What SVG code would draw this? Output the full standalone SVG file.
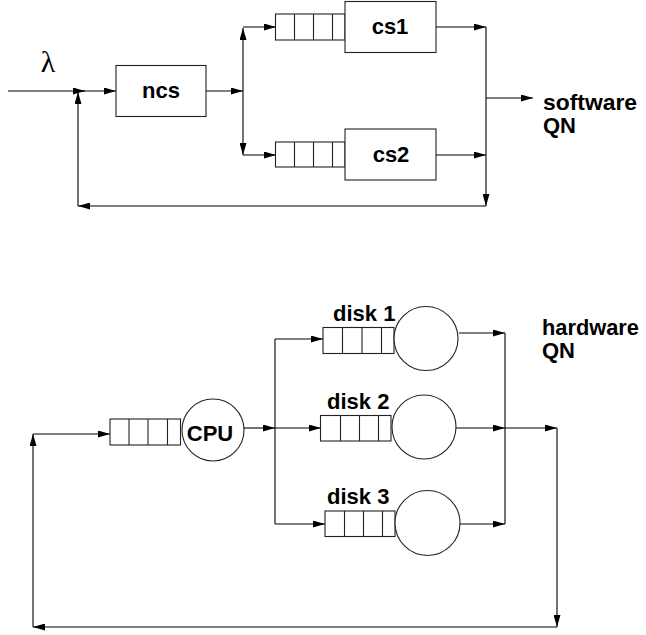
<svg xmlns="http://www.w3.org/2000/svg" width="646" height="635" viewBox="0 0 646 635">
<defs>
<marker id="ah" markerUnits="userSpaceOnUse" markerWidth="12" markerHeight="7" refX="12" refY="3.5" orient="auto">
<path d="M0,0 L12,3.5 L0,7 z" fill="#000"/>
</marker>
</defs>
<style>
.ln{fill:none;stroke:#000;stroke-width:1.1;marker-end:url(#ah)}
.pl{fill:none;stroke:#000;stroke-width:1.1}
.bx{fill:#fff;stroke:#222;stroke-width:1.1}
.cell{stroke:#222;stroke-width:1.1}
.lb{font-family:"Liberation Sans",Arial,sans-serif;font-weight:bold;font-size:22px;fill:#000}
.mid{text-anchor:middle}
</style>
<rect width="646" height="635" fill="#fff"/>
<g id="connectors">
<line class="ln" x1="8" y1="91" x2="85" y2="91"/>
<line class="ln" x1="78" y1="91" x2="116" y2="91"/>
<line class="ln" x1="206" y1="91" x2="243" y2="91"/>
<line class="ln" x1="243" y1="91" x2="243" y2="28"/>
<line class="ln" x1="243" y1="91" x2="243" y2="155"/>
<line class="ln" x1="243" y1="27" x2="276" y2="27"/>
<line class="ln" x1="243" y1="155" x2="276" y2="155"/>
<line class="ln" x1="436" y1="27" x2="486" y2="27"/>
<line class="ln" x1="436" y1="155" x2="486" y2="155"/>
<line class="ln" x1="486" y1="27" x2="486" y2="206"/>
<line class="ln" x1="486" y1="98" x2="533" y2="98"/>
<line class="ln" x1="486" y1="206" x2="78" y2="206"/>
<line class="ln" x1="78" y1="206" x2="78" y2="92"/>
<line class="ln" x1="33" y1="434" x2="110" y2="434"/>
<line class="ln" x1="244" y1="428" x2="275" y2="428"/>
<line class="ln" x1="275" y1="428" x2="321" y2="428"/>
<line class="pl" x1="275" y1="339" x2="275" y2="524"/>
<line class="ln" x1="275" y1="339" x2="323" y2="339"/>
<line class="ln" x1="275" y1="524" x2="325" y2="524"/>
<line class="ln" x1="459" y1="333" x2="505" y2="333"/>
<line class="ln" x1="455" y1="428" x2="505" y2="428"/>
<line class="ln" x1="454" y1="524" x2="505" y2="524"/>
<line class="pl" x1="505" y1="333" x2="505" y2="524"/>
<line class="ln" x1="505" y1="428" x2="557" y2="428"/>
<line class="ln" x1="557" y1="428" x2="557" y2="627"/>
<line class="ln" x1="557" y1="627" x2="33" y2="627"/>
<line class="ln" x1="33" y1="627" x2="33" y2="434"/>
</g>
<g id="lambda">
<text x="48" y="72" font-family="'Liberation Serif','Times New Roman',serif" font-size="30" text-anchor="middle" fill="#000">λ</text>
</g>
<g id="ncs">
<rect class="bx" x="116" y="65.5" width="90" height="51"/>
<text class="lb mid" x="161" y="98">ncs</text>
</g>
<g id="cs1">
<rect class="bx" x="275.5" y="14" width="69.5" height="26"/>
<line class="cell" x1="294.5" y1="14" x2="294.5" y2="40"/>
<line class="cell" x1="313.5" y1="14" x2="313.5" y2="40"/>
<line class="cell" x1="332.5" y1="14" x2="332.5" y2="40"/>
<rect class="bx" x="345" y="1.5" width="91" height="51"/>
<text class="lb mid" x="390" y="34">cs1</text>
</g>
<g id="cs2">
<rect class="bx" x="275.5" y="142" width="69.5" height="25"/>
<line class="cell" x1="294.5" y1="142" x2="294.5" y2="167"/>
<line class="cell" x1="313.5" y1="142" x2="313.5" y2="167"/>
<line class="cell" x1="332.5" y1="142" x2="332.5" y2="167"/>
<rect class="bx" x="345" y="129" width="91" height="51"/>
<text class="lb mid" x="391" y="162">cs2</text>
</g>
<g id="software-label">
<text class="lb" x="543" y="110" textLength="94" lengthAdjust="spacingAndGlyphs">software</text>
<text class="lb" x="543" y="133">QN</text>
</g>
<g id="cpu">
<rect class="bx" x="110" y="419" width="70.5" height="26"/>
<line class="cell" x1="129" y1="419" x2="129" y2="445"/>
<line class="cell" x1="148" y1="419" x2="148" y2="445"/>
<line class="cell" x1="167.5" y1="419" x2="167.5" y2="445"/>
<circle class="bx" cx="213" cy="430" r="31"/>
<text class="lb mid" x="210" y="441">CPU</text>
</g>
<g id="disk1">
<rect class="bx" x="323" y="327.5" width="71" height="26"/>
<line class="cell" x1="342.5" y1="327.5" x2="342.5" y2="353.5"/>
<line class="cell" x1="362" y1="327.5" x2="362" y2="353.5"/>
<line class="cell" x1="381.5" y1="327.5" x2="381.5" y2="353.5"/>
<circle class="bx" cx="426" cy="338.5" r="32"/>
<text class="lb" x="333" y="321">disk 1</text>
</g>
<g id="disk2">
<rect class="bx" x="320.5" y="415.5" width="70.5" height="25.5"/>
<line class="cell" x1="340.5" y1="415.5" x2="340.5" y2="441"/>
<line class="cell" x1="359.5" y1="415.5" x2="359.5" y2="441"/>
<line class="cell" x1="378.5" y1="415.5" x2="378.5" y2="441"/>
<circle class="bx" cx="424" cy="427" r="32"/>
<text class="lb" x="327" y="409">disk 2</text>
</g>
<g id="disk3">
<rect class="bx" x="325" y="511" width="70" height="25.5"/>
<line class="cell" x1="344.5" y1="511" x2="344.5" y2="536.5"/>
<line class="cell" x1="363.5" y1="511" x2="363.5" y2="536.5"/>
<line class="cell" x1="382.5" y1="511" x2="382.5" y2="536.5"/>
<circle class="bx" cx="427.5" cy="523" r="32.5"/>
<text class="lb" x="327" y="504">disk 3</text>
</g>
<g id="hardware-label">
<text class="lb" x="542" y="335" textLength="97" lengthAdjust="spacingAndGlyphs">hardware</text>
<text class="lb" x="542" y="358">QN</text>
</g>
</svg>
